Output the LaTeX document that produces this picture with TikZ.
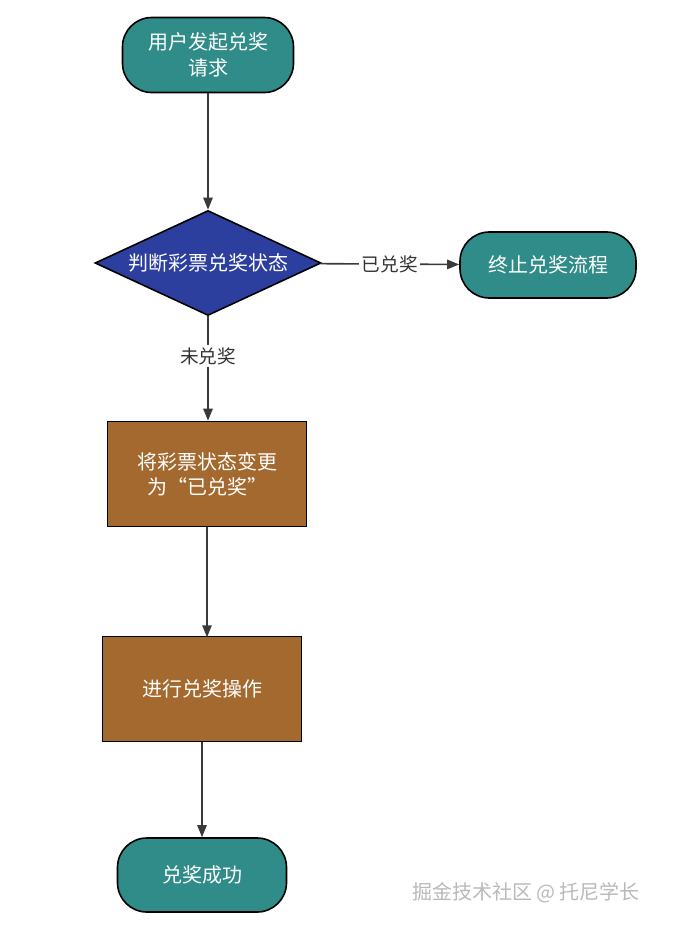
\documentclass[tikz,border=0pt]{standalone}
\usepackage{fontspec}
\setmainfont{Noto Sans CJK SC}
\usetikzlibrary{shapes.geometric,arrows.meta,positioning}
\definecolor{tealfill}{HTML}{2F8C89}
\definecolor{bluefill}{HTML}{2D3F9E}
\definecolor{brownfill}{HTML}{A3692F}
\definecolor{linegray}{HTML}{3A3A3A}

\begin{document}
\begin{tikzpicture}[
    x=0.75pt, y=-0.75pt,
    term/.style={rectangle, draw=black, line width=1.2pt, fill=tealfill, text=white, rounded corners=22pt, minimum width=171*0.75pt, minimum height=75*0.75pt, align=center, font=\fontsize{15}{19}\selectfont},
    block/.style={rectangle, draw=black, line width=1.2pt, fill=brownfill, text=white, minimum width=199*0.75pt, minimum height=105*0.75pt, align=center, font=\fontsize{15}{19}\selectfont},
    decide/.style={diamond, draw=black, line width=1.2pt, fill=bluefill, text=white, aspect=2.15, inner sep=1pt, minimum width=226*0.75pt, minimum height=105*0.75pt, font=\fontsize{15}{19}\selectfont},
    arrow/.style={-{Triangle[length=9pt,width=7pt]}, linegray, line width=1.2pt},
    lbl/.style={fill=white, text=black!80, inner sep=2pt, font=\fontsize{14}{17}\selectfont}
]
    \useasboundingbox (0,0) rectangle (682,931);
    % Nodes
    \node[term] (start) at (208,55) {用户发起兑奖\\请求};
    \node[decide] (check) at (208,263) {判断彩票兑奖状态};
    \node[term, minimum width=176*0.75pt, minimum height=66*0.75pt] (stop) at (548,265) {终止兑奖流程};
    \node[block] (mark) at (207,474) {将彩票状态变更\\为“已兑奖”};
    \node[block] (redeem) at (202,689) {进行兑奖操作};
    \node[term, minimum width=169*0.75pt, minimum height=74*0.75pt] (done) at (202,875) {兑奖成功};
    \node[text=gray!55, font=\fontsize{15}{18}\selectfont] (mark2) at (526,893) {掘金技术社区 @ 托尼学长};

    % Arrows
    \draw[arrow] (start) -- (check);
    \draw[arrow] (check) -- node[lbl] {已兑奖} (stop);
    \draw[arrow] (check.south) -- node[lbl, pos=0.38] {未兑奖} (check.south |- mark.north);
    \draw[arrow] (mark.south -| redeem.north) ++(5,0) -- ++(0,110);
    \draw[arrow] (redeem) -- (done);
\end{tikzpicture}
\end{document}
